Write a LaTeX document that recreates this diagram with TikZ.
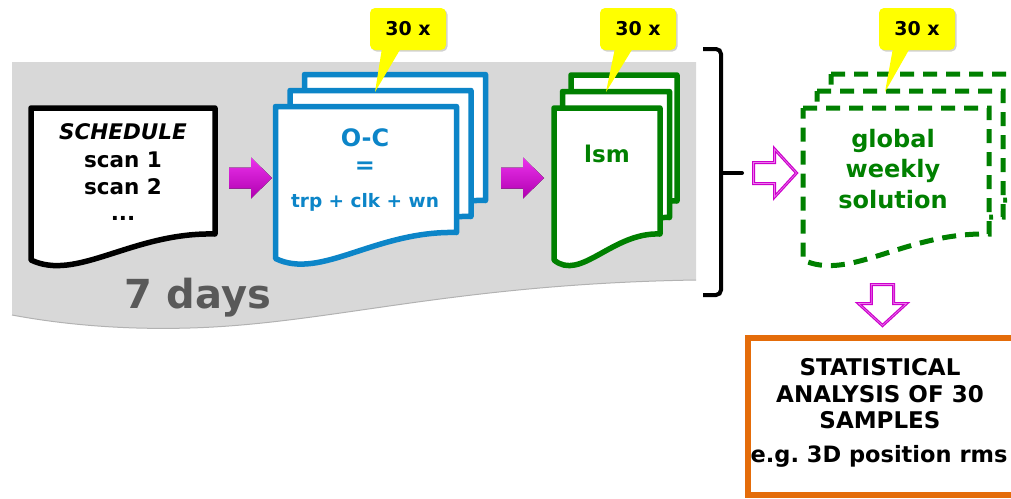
\documentclass[tikz,border=0pt]{standalone}
\usepackage{fontspec}
\setmainfont{DejaVu Sans}

\definecolor{ocblue}{RGB}{12,133,200}
\definecolor{lsmgreen}{RGB}{0,128,0}
\definecolor{bandgray}{RGB}{216,216,216}
\definecolor{daygray}{RGB}{89,89,89}
\definecolor{arrowmag}{RGB}{204,0,204}
\definecolor{maglight}{RGB}{236,120,236}
\definecolor{magtop}{RGB}{236,50,236}
\definecolor{magbot}{RGB}{175,0,175}
\definecolor{boxorange}{RGB}{228,108,10}
\definecolor{noteyellow}{RGB}{255,255,0}

% page outline: left, top, right; wavy lower edge
\newcommand\pagepath[3]{(#1,#2) -- (#3,#2) -- (#3,{#2+126})
  .. controls ({#1+0.55*(#3-#1)},{#2+124}) and ({#1+0.25*(#3-#1)},{#2+174})
  .. (#1,{#2+152}) -- cycle}
% block arrows, drawn from the tail (at the origin)
\newcommand\solidshape{(0,-10.5) -- (22,-10.5) -- (22,-20.5) -- (43,0)
  -- (22,20.5) -- (22,10.5) -- (0,10.5) -- cycle}
\newcommand\rightshape{(0,-10.5) -- (21,-10.5) -- (21,-24) -- (43,0)
  -- (21,24) -- (21,10.5) -- (0,10.5) -- cycle}
\newcommand\downshape{(-11.2,0) -- (11.2,0) -- (11.2,19) -- (24,19) -- (0,41)
  -- (-24,19) -- (-11.2,19) -- cycle}

\tikzset{
  sheet/.style={fill=white, line width=5.5pt, line join=round},
  dashsheet/.style={fill=white, line width=5pt, draw=lsmgreen,
    dash pattern=on 14pt off 9pt},
  note/.style={fill=noteyellow},
  noteshade/.style={fill=black, opacity=0.18},
  notetext/.style={font=\bfseries\fontsize{19}{22}\selectfont, anchor=base, inner sep=0pt},
  schedtxt/.style={font=\bfseries\fontsize{21.5}{25}\selectfont, anchor=base, inner sep=0pt},
  octxt/.style={font=\bfseries\fontsize{24}{28}\selectfont, anchor=base, inner sep=0pt, text=ocblue},
  termtxt/.style={font=\bfseries\fontsize{18.5}{22}\selectfont, anchor=base, inner sep=0pt, text=ocblue},
  greentxt/.style={font=\bfseries\fontsize{24}{28}\selectfont, anchor=base, inner sep=0pt, text=lsmgreen},
  stattxt/.style={font=\bfseries\fontsize{23}{26}\selectfont, anchor=base, inner sep=0pt},
  daytxt/.style={font=\bfseries\fontsize{40}{46}\selectfont, anchor=base, inner sep=0pt},
  solidarrow/.style={top color=magtop, bottom color=magbot},
  hollowarrow/.style={draw=arrowmag, fill=white, line width=3pt, line join=miter},
  hollowshine/.style={draw=maglight, line width=0.6pt, line join=miter},
  bracket/.style={draw=black, line width=4pt, rounded corners=5pt},
  statframe/.style={draw=boxorange, line width=6pt},
}

\begin{document}
\begin{tikzpicture}[x=1pt,y=-1pt]
\useasboundingbox (0,0) rectangle (1011,498);
\clip (0,0) rectangle (1011,498);

% one-week band
\fill[bandgray] (12,62) -- (696,62) -- (696,280)
  .. controls (450,284) and (330,324) .. (190,328)
  .. controls (120,330) and (60,324) .. (12,315) -- cycle;
\draw[gray!60, line width=1pt] (696,280)
  .. controls (450,284) and (330,324) .. (190,328)
  .. controls (120,330) and (60,324) .. (12,315);
\node[daytxt, text=daygray] (days) at (198,308) {7 days};

% schedule
\draw[sheet, draw=black] \pagepath{31}{108}{215};
\node[schedtxt, font=\bfseries\itshape\fontsize{21.5}{25}\selectfont] (s0) at (123,139) {SCHEDULE};
\node[schedtxt] (s1) at (123,167) {scan 1};
\node[schedtxt] (s2) at (123,194) {scan 2};
\node[schedtxt] (s3) at (123,220) {...};

% O-C stack
\draw[sheet, draw=ocblue] \pagepath{304.5}{74.5}{485.5};
\draw[sheet, draw=ocblue] \pagepath{290}{90.5}{471};
\draw[sheet, draw=ocblue] \pagepath{275.5}{106.5}{456.5};
\node[octxt] (oc) at (365,146) {O-C};
\node[octxt, anchor=center] (eq) at (365,168) {=};
\node[termtxt] (terms) at (365,207) {trp + clk + wn};

% lsm stack
\draw[sheet, draw=lsmgreen] \pagepath{571}{75}{677};
\draw[sheet, draw=lsmgreen] \pagepath{562.5}{91.5}{669.5};
\draw[sheet, draw=lsmgreen] \pagepath{554}{108}{660};
\node[greentxt, font=\bfseries\fontsize{23}{27}\selectfont] (lsm) at (607,162) {lsm};

% weekly solution stack
\draw[dashsheet] \pagepath{831}{74}{1017};
\draw[dashsheet] \pagepath{817}{91}{1003};
\draw[dashsheet] \pagepath{803}{108}{989};
\node[greentxt] (g1) at (893,147) {global};
\node[greentxt] (g2) at (893,177) {weekly};
\node[greentxt] (g3) at (893,208) {solution};

% process arrows between the sheets
\coordinate (ar1) at (229,178);
\coordinate (ar2) at (501,178);
\fill[solidarrow, shift={(ar1)}] \solidshape;
\fill[solidarrow, shift={(ar2)}] \solidshape;

% bracket over the band
\draw[bracket] (703,49) -- (721,49) -- (721,295) -- (703,295);
\coordinate (bracemid) at (721,173);
\coordinate (bracetip) at (742,173);
\draw[draw=black, line width=4pt, line cap=round] (bracemid) -- (bracetip);

% hollow arrows towards the solution and the statistics
\coordinate (ar3) at (753.5,173);
\coordinate (ar4) at (882.5,284.5);
\draw[hollowarrow, shift={(ar3)}] \rightshape;
\draw[hollowshine, shift={(ar3)}] \rightshape;
\draw[hollowarrow, shift={(ar4)}] \downshape;
\draw[hollowshine, shift={(ar4)}] \downshape;

% statistics box
\draw[statframe] (748,338) rectangle (1022,495);
\node[stattxt] (t1) at (880,375) {STATISTICAL};
\node[stattxt] (t2) at (880,402) {ANALYSIS OF 30};
\node[stattxt] (t3) at (880,428) {SAMPLES};
\node[stattxt, font=\bfseries\fontsize{22.5}{26}\selectfont] (t4) at (879,462) {e.g.\ 3D position rms};

% 30 x callouts
\fill[noteshade, rounded corners=5pt] (371.5,9.5) rectangle (447.5,51.5);
\fill[note] (382,48) -- (375,92) -- (401,48) -- cycle;
\fill[note, rounded corners=5pt] (370,8) rectangle (446,50);
\node[notetext] (n1) at (408,35) {30 x};

\fill[noteshade, rounded corners=5pt] (601.5,9.5) rectangle (677.5,51.5);
\fill[note] (615,48) -- (606,92) -- (633,48) -- cycle;
\fill[note, rounded corners=5pt] (600,8) rectangle (676,50);
\node[notetext] (n2) at (638,35) {30 x};

\fill[noteshade, rounded corners=5pt] (880.5,9.5) rectangle (956.5,51.5);
\fill[note] (893,48) -- (885,92) -- (910,48) -- cycle;
\fill[note, rounded corners=5pt] (879,8) rectangle (955,50);
\node[notetext] (n3) at (917,35) {30 x};
\end{tikzpicture}
\end{document}
